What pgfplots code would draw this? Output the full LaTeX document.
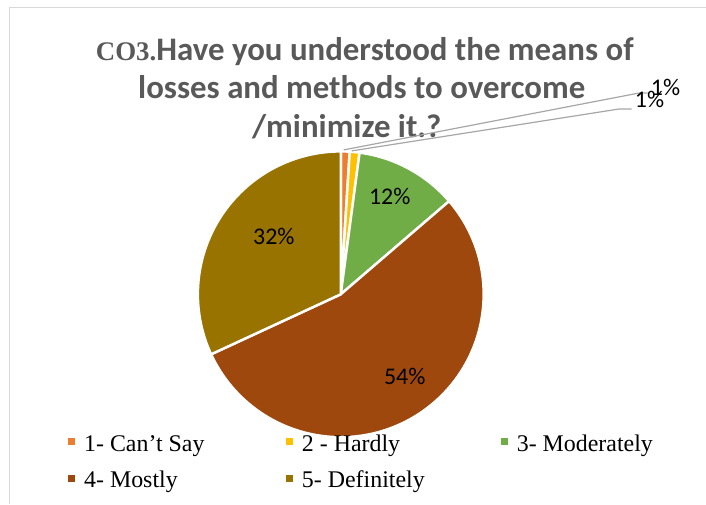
\documentclass[border=0pt]{standalone}
\usepackage{pgfplots}
\usepackage{pgfplotstable}
\pgfplotsset{compat=1.18}
\usepackage{fontspec}
\setmainfont{Liberation Serif}
\newfontfamily\calibri{Carlito}
\definecolor{c1}{HTML}{ED7D31}
\definecolor{c2}{HTML}{FFC000}
\definecolor{c3}{HTML}{70AD47}
\definecolor{c4}{HTML}{9E480E}
\definecolor{c5}{HTML}{997300}
\definecolor{titlegray}{HTML}{595959}
\definecolor{leadgray}{HTML}{A6A6A6}
\definecolor{framegray}{HTML}{D9D9D9}

\pgfplotstableread{
value pcol
1.0 c1
1.1 c2
11.6 c3
54.4 c4
31.9 c5
}\piedata

\begin{document}
\begin{tikzpicture}
\begin{axis}[
  hide axis, scale only axis, width=706bp, height=504bp,
  xmin=0, xmax=706, ymin=0, ymax=504, clip=false,
]
\addplot[draw=none] coordinates {(0,0) (706,504)};
\pgfplotsextra{%
  \pgfplotstablegetrowsof{\piedata}%
  \pgfmathtruncatemacro\lastrow{\pgfplotsretval-1}%
  \gdef\cumval{0}%
  \foreach \i in {0,...,\lastrow}{%
    \pgfplotstablegetelem{\i}{value}\of\piedata
    \let\sval\pgfplotsretval
    \pgfplotstablegetelem{\i}{pcol}\of\piedata
    \let\scol\pgfplotsretval
    \pgfmathsetmacro\angA{90-3.6*\cumval}%
    \pgfmathsetmacro\angB{90-3.6*(\cumval+\sval)}%
    \fill[fill=\scol, draw=white, line width=2.5pt, line join=round]
      (axis cs:341,209.5) -- ++(\angA:143bp) arc[start angle=\angA, end angle=\angB, radius=143bp] -- cycle;
    \pgfmathsetmacro\newcum{\cumval+\sval}%
    \xdef\cumval{\newcum}%
  }%
}
% frame
\draw[framegray, line width=1pt] (axis cs:9.5,0) -- (axis cs:9.5,496) -- (axis cs:706,496);
% title
\node[anchor=base, text=titlegray, inner sep=0pt] at (axis cs:365,443)
  {{\fontsize{27}{32}\selectfont\bfseries CO3.}{\calibri\fontsize{33}{38}\selectfont\bfseries Have you understood the means of}};
\node[anchor=base, text=titlegray, inner sep=0pt] at (axis cs:362,405)
  {\calibri\fontsize{33}{38}\selectfont\bfseries losses and methods to overcome};
\node[anchor=base, text=titlegray, inner sep=0pt] at (axis cs:347,366)
  {\calibri\fontsize{33}{38}\selectfont\bfseries /minimize it.?};
% leader lines
\draw[leadgray, line width=1.2pt] (axis cs:344,354) -- (axis cs:640,411) -- (axis cs:648,411);
\draw[leadgray, line width=1.2pt] (axis cs:352,353) -- (axis cs:620,395) -- (axis cs:632,395);
% data labels
\begin{scope}[every node/.style={inner sep=0pt, font=\calibri\fontsize{24}{28}\selectfont}]
\node at (axis cs:666,416) {1\%};
\node at (axis cs:650,404) {1\%};
\node at (axis cs:390,307) {12\%};
\node at (axis cs:274,267) {32\%};
\node at (axis cs:405,127) {54\%};
\end{scope}
% legend
\begin{scope}[every node/.style={inner sep=0pt, anchor=base west, font=\fontsize{24}{28}\selectfont}]
\fill[c1] (axis cs:68.5,58.5) rectangle (axis cs:75.5,65.5);
\node at (axis cs:84,52) {1- Can’t Say};
\fill[c2] (axis cs:286,58.5) rectangle (axis cs:293,65.5);
\node at (axis cs:302,52) {2 - Hardly};
\fill[c3] (axis cs:501.5,58.5) rectangle (axis cs:508.5,65.5);
\node at (axis cs:517,52) {3- Moderately};
\fill[c4] (axis cs:68.5,22) rectangle (axis cs:75.5,29);
\node at (axis cs:84,16) {4- Mostly};
\fill[c5] (axis cs:286,22) rectangle (axis cs:293,29);
\node at (axis cs:302,16) {5- Definitely};
\end{scope}
\end{axis}
\end{tikzpicture}
\end{document}
